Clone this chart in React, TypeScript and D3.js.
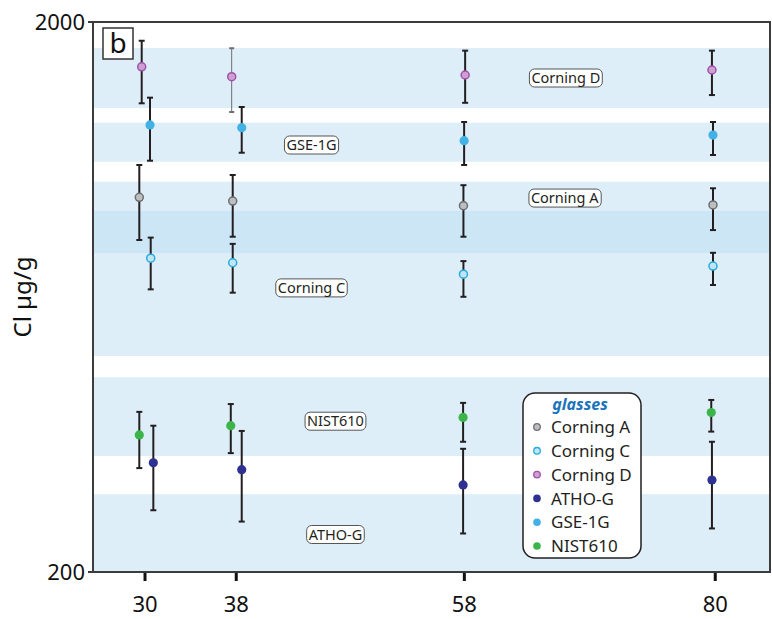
import React, { useEffect, useRef } from "react";
import * as d3 from "d3";

// ---------- data ----------
const xTicks = [30, 38, 58, 80];
const yTicks = [200, 2000];
const seriesNames = ["Corning A", "Corning C", "Corning D", "ATHO-G", "GSE-1G", "NIST610"];

// x positions (slightly jittered around the nominal tick values)
const cornAX = [29.5, 37.69, 57.92, 79.8];
const cornAY = [960, 945, 927, 930];
const cornALo = [803, 814, 814, 837];
const cornAHi = [1099, 1054, 1010, 997];

const cornCX = [30.5, 37.69, 57.92, 79.8];
const cornCY = [744, 730, 696, 720];
const cornCLo = [653, 644, 633, 665];
const cornCHi = [811, 790, 735, 761];

const cornDX = [29.71, 37.6, 58.07, 79.71];
const cornDY = [1658, 1591, 1602, 1636];
const cornDLo = [1423, 1372, 1426, 1473];
const cornDHi = [1849, 1792, 1774, 1774];

const athoX = [30.73, 38.48, 57.89, 79.71];
const athoY = [316, 307, 288, 294];
const athoLo = [259, 247, 235, 240];
const athoHi = [369, 361, 335, 345];

const gseX = [30.44, 38.48, 57.98, 79.8];
const gseY = [1300, 1285, 1217, 1246];
const gseLo = [1119, 1157, 1099, 1146];
const gseHi = [1457, 1401, 1316, 1316];

const nistX = [29.5, 37.52, 57.89, 79.65];
const nistY = [355, 369, 382, 390];
const nistLo = [309, 329, 345, 360];
const nistHi = [391, 404, 406, 411];

// reference value ranges (bands) per glass, same order as seriesNames
const bandLow = [760, 494, 1395, 190, 1114, 325];
const bandHigh = [1025, 907, 1794, 277, 1312, 452];

// in-plot labels
const labelText = ["Corning D", "GSE-1G", "Corning A", "Corning C", "NIST610", "ATHO-G"];
const labelX = [66.9, 44.6, 66.8, 44.6, 46.7, 46.7];
const labelY = [1582, 1195, 957, 657, 376, 234];

const panelLetter = "b";
const yTitle = "Cl µg/g";
const legendTitle = "glasses";

// ---------- styles ----------
const fills = ["#bcbec0", "#bfe6f5", "#cf9fd4", "#2e3192", "#42b2e6", "#3bb54a"];
const strokes = ["#6d6e71", "#27aae1", "#9e52a6", "none", "none", "none"];

const W = 772;
const H = 619;
const L = 93, R = 770, T = 22, B = 572;
const FONT = "'Noto Sans', 'DejaVu Sans', sans-serif";

export default function App() {
  const ref = useRef<SVGSVGElement | null>(null);

  useEffect(() => {
    const svg = d3.select(ref.current);
    svg.selectAll("*").remove();

    const x = d3.scaleLinear().domain([25.44, 84.8]).range([L, R]);
    const y = d3.scaleLog().domain([200, 2000]).range([B, T]);

    const defs = svg.append("defs");
    defs.append("clipPath").attr("id", "plotclip")
      .append("rect").attr("x", L).attr("y", T).attr("width", R - L).attr("height", B - T);

    // bands
    const bandG = svg.append("g").attr("clip-path", "url(#plotclip)");
    bandG.selectAll("rect").data(seriesNames.map((n, i) => ({ lo: bandLow[i], hi: bandHigh[i] })))
      .join("rect")
      .attr("x", L).attr("width", R - L)
      .attr("y", d => y(d.hi))
      .attr("height", d => y(d.lo) - y(d.hi))
      .attr("fill", "rgb(191,223,244)")
      .attr("fill-opacity", 0.53);

    // frame
    svg.append("rect").attr("x", L).attr("y", T).attr("width", R - L).attr("height", B - T)
      .attr("fill", "none").attr("stroke", "#3c3c3c").attr("stroke-width", 2);

    // y ticks
    yTicks.forEach(v => {
      svg.append("line").attr("x1", L - 5).attr("x2", L).attr("y1", y(v)).attr("y2", y(v))
        .attr("stroke", "#3c3c3c").attr("stroke-width", 2);
      svg.append("text").attr("x", L - 8).attr("y", y(v)).attr("dy", "0.36em")
        .attr("text-anchor", "end").attr("font-family", FONT).attr("font-size", 22)
        .attr("fill", "#111").text(String(v));
    });

    // x ticks
    xTicks.forEach(v => {
      svg.append("line").attr("x1", x(v)).attr("x2", x(v)).attr("y1", B + 1).attr("y2", B + 9)
        .attr("stroke", "#111").attr("stroke-width", 3);
      svg.append("text").attr("x", x(v)).attr("y", 612)
        .attr("text-anchor", "middle").attr("font-family", FONT).attr("font-size", 22)
        .attr("fill", "#111").text(String(v));
    });

    // y title
    svg.append("text").attr("transform", `translate(31,${(T + B) / 2}) rotate(-90)`)
      .attr("text-anchor", "middle").attr("font-family", FONT).attr("font-size", 24)
      .attr("fill", "#111").text(yTitle);

    // series
    const series = [
      { xs: cornAX, ys: cornAY, lo: cornALo, hi: cornAHi },
      { xs: cornCX, ys: cornCY, lo: cornCLo, hi: cornCHi },
      { xs: cornDX, ys: cornDY, lo: cornDLo, hi: cornDHi },
      { xs: athoX, ys: athoY, lo: athoLo, hi: athoHi },
      { xs: gseX, ys: gseY, lo: gseLo, hi: gseHi },
      { xs: nistX, ys: nistY, lo: nistLo, hi: nistHi },
    ];

    const errG = svg.append("g");
    const ptG = svg.append("g");
    series.forEach((s, si) => {
      s.xs.forEach((xv, i) => {
        const px = x(xv);
        const thin = si === 2 && i === 1;
        const col = thin ? "#6d6e71" : "#231f20";
        const sw = thin ? 1 : 2;
        const cap = thin ? 2.5 : 3;
        errG.append("line").attr("x1", px).attr("x2", px)
          .attr("y1", y(s.hi[i])).attr("y2", y(s.lo[i]))
          .attr("stroke", col).attr("stroke-width", sw);
        [s.hi[i], s.lo[i]].forEach(v => {
          errG.append("line").attr("x1", px - cap).attr("x2", px + cap)
            .attr("y1", y(v)).attr("y2", y(v))
            .attr("stroke", col).attr("stroke-width", 2);
        });
        ptG.append("circle").attr("cx", px).attr("cy", y(s.ys[i]))
          .attr("r", strokes[si] === "none" ? 4.6 : 4)
          .attr("fill", fills[si])
          .attr("stroke", strokes[si]).attr("stroke-width", 1.5);
      });
    });

    // labels
    labelText.forEach((t, i) => {
      const g = svg.append("g");
      const tx = g.append("text").attr("x", x(labelX[i])).attr("y", y(labelY[i]))
        .attr("dy", "0.36em").attr("text-anchor", "middle")
        .attr("font-family", FONT).attr("font-size", 14.5).attr("fill", "#231f20").text(t);
      const bb = (tx.node() as SVGTextElement).getBBox();
      g.insert("rect", "text")
        .attr("x", bb.x - 2).attr("y", y(labelY[i]) - 9)
        .attr("width", bb.width + 4).attr("height", 18)
        .attr("rx", 5).attr("fill", "#fff").attr("stroke", "#555").attr("stroke-width", 1);
    });

    // panel letter
    svg.append("rect").attr("x", 103).attr("y", 28).attr("width", 30).attr("height", 31)
      .attr("fill", "#fff").attr("stroke", "#333").attr("stroke-width", 1.5);
    svg.append("text").attr("x", 118).attr("y", 53).attr("text-anchor", "middle")
      .attr("font-family", FONT).attr("font-size", 28).attr("fill", "#111").text(panelLetter);

    // legend
    const lg = svg.append("g");
    lg.append("rect").attr("x", 523).attr("y", 393).attr("width", 118).attr("height", 165)
      .attr("rx", 12).attr("fill", "#fff").attr("stroke", "#231f20").attr("stroke-width", 1.5);
    lg.append("text").attr("x", 580).attr("y", 410).attr("text-anchor", "middle")
      .attr("font-family", FONT).attr("font-size", 16).attr("font-style", "italic")
      .attr("font-weight", "bold").attr("fill", "#1c75bc").text(legendTitle);
    seriesNames.forEach((n, i) => {
      const cy = 427 + i * 23.8;
      lg.append("circle").attr("cx", 537).attr("cy", cy).attr("r", strokes[i] === "none" ? 3.8 : 3.3)
        .attr("fill", fills[i]).attr("stroke", strokes[i]).attr("stroke-width", 1.3);
      lg.append("text").attr("x", 551).attr("y", cy).attr("dy", "0.36em")
        .attr("font-family", FONT).attr("font-size", 17).attr("fill", "#231f20").text(n);
    });
  }, []);

  return (
    <svg ref={ref} width={W} height={H}
      style={{ position: "absolute", left: 0, top: 0, background: "#fff" }} />
  );
}
